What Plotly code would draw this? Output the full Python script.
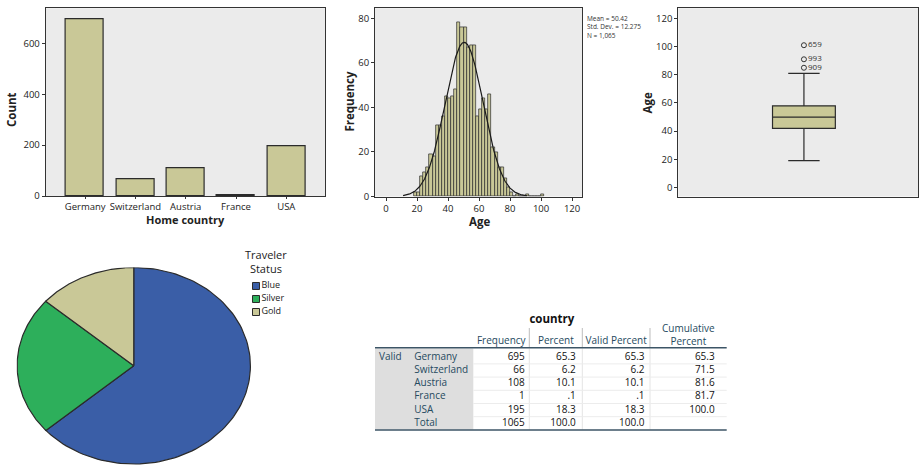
import numpy as np
import plotly.graph_objects as go

# ---------------- data ----------------
countries = ["Germany", "Switzerland", "Austria", "France", "USA"]
country_counts = [695, 66, 108, 1, 195]
country_percent = ["65.3", "6.2", "10.1", ".1", "18.3"]
country_valid_percent = ["65.3", "6.2", "10.1", ".1", "18.3"]
country_cum_percent = ["65.3", "71.5", "81.6", "81.7", "100.0"]
country_total = 1065

age_bin_start = [18, 20, 22, 24, 26, 28, 30, 32, 34, 36, 38, 40, 42, 44, 46, 48, 50,
                 52, 54, 56, 58, 60, 62, 64, 66, 68, 70, 72, 74, 76, 78, 80, 82, 84,
                 86, 88, 90, 92, 94, 96, 98, 100]
age_freq = [2, 2, 9, 11, 13, 19, 18, 32, 32, 36, 45, 44, 45, 48, 78, 76, 76,
            67, 68, 68, 36, 39, 44, 39, 46, 22, 20, 13, 13, 8, 4, 2, 0, 1,
            0, 0, 1, 0, 0, 0, 0, 1]
age_bin_width = 2
age_mean = 50.42
age_sd = 12.275
age_n = 1065

box_q1 = 42
box_median = 50
box_q3 = 58
box_low = 19
box_high = 81
outlier_ages = [101, 91, 85]
outlier_ids = ["659", "993", "909"]

status_labels = ["Blue", "Silver", "Gold"]
status_counts = [677, 243, 145]
status_colors = ["#3A5EA7", "#2DAF5B", "#C9C897"]

table_title = "country"
table_headers = ["Frequency", "Percent", "Valid Percent", "Cumulative<br>Percent"]

# ---------------- styles ----------------
FONT = "Open Sans"
BAR_FILL = "#C9C897"
EDGE = "#2b2b2b"
BG = "#EBEBEB"
W, H = 921, 465
TEAL = "#264A60"


def px_x(p):
    return p / W


def px_y(p):
    return 1 - p / H


fig = go.Figure()

# Bar chart: Home country
fig.add_trace(go.Bar(
    x=countries, y=country_counts, width=0.755,
    marker=dict(color=BAR_FILL, line=dict(color=EDGE, width=1.2)),
    xaxis="x", yaxis="y", showlegend=False))

# Histogram of age
fig.add_trace(go.Bar(
    x=[s + age_bin_width / 2 for s in age_bin_start], y=age_freq, width=age_bin_width,
    marker=dict(color=BAR_FILL, line=dict(color=EDGE, width=0.7)),
    xaxis="x2", yaxis="y2", showlegend=False))

cx = np.linspace(11, 91, 300)
cy = age_n * age_bin_width * np.exp(-0.5 * ((cx - age_mean) / age_sd) ** 2) / (age_sd * np.sqrt(2 * np.pi))
fig.add_trace(go.Scatter(x=cx, y=cy, mode="lines", line=dict(color="#1a1a1a", width=1.2),
                         xaxis="x2", yaxis="y2", showlegend=False, hoverinfo="skip"))

# Box plot
fig.add_trace(go.Box(
    x=[0], q1=[box_q1], median=[box_median], q3=[box_q3],
    lowerfence=[box_low], upperfence=[box_high],
    width=0.5, whiskerwidth=0.5, boxpoints=False,
    fillcolor=BAR_FILL, line=dict(color=EDGE, width=1.2),
    xaxis="x3", yaxis="y3", showlegend=False))
fig.add_trace(go.Scatter(
    x=[0] * len(outlier_ages), y=outlier_ages, mode="markers+text",
    text=outlier_ids, textposition="middle right",
    textfont=dict(family=FONT, size=8, color="#333"),
    marker=dict(symbol="circle-open", size=5, color="#333", line=dict(width=1)),
    xaxis="x3", yaxis="y3", showlegend=False))

# Elliptical pie built from slice polygons
total = sum(status_counts)
start = 90.0
for lab, cnt, col in zip(status_labels, status_counts, status_colors):
    sweep = 360.0 * cnt / total
    ang = np.radians(np.linspace(start, start - sweep, 120))
    xs = np.concatenate([[0], np.cos(ang), [0]])
    ys = np.concatenate([[0], np.sin(ang), [0]])
    fig.add_trace(go.Scatter(x=xs, y=ys, mode="lines", fill="toself", fillcolor=col,
                             line=dict(color=EDGE, width=1.2), xaxis="x4", yaxis="y4",
                             showlegend=False, hoverinfo="skip"))
    start -= sweep

# Legend for pie (drawn as markers on a hidden axis)
fig.add_trace(go.Scatter(
    x=[0] * len(status_labels), y=list(range(len(status_labels))), mode="markers+text",
    text=status_labels, textposition="middle right",
    textfont=dict(family=FONT, size=9, color="#222"),
    marker=dict(symbol="square", size=7, color=status_colors, line=dict(color=EDGE, width=1)),
    xaxis="x5", yaxis="y5", showlegend=False, hoverinfo="skip"))

# Frequency table, drawn as text on a hidden axis measured in pixels
col_edges = [375, 411.7, 473.3, 529.3, 582.3, 650, 726.7]
row_y = [357.3 + 13.2 * i for i in range(6)]
label_col = ["Valid", "", "", "", "", ""]
cat_col = countries + ["Total"]
freq_col = [str(v) for v in country_counts] + [str(country_total)]
pct_col = country_percent + ["100.0"]
vpct_col = country_valid_percent + ["100.0"]
cum_col = country_cum_percent + [""]


def table_text(xpos, values, pos, color):
    fig.add_trace(go.Scatter(
        x=[xpos] * len(values), y=row_y[:len(values)], mode="text", text=values,
        textposition=pos, textfont=dict(family=FONT, size=10, color=color),
        xaxis="x6", yaxis="y6", showlegend=False, hoverinfo="skip"))


table_text(col_edges[0] + 4, label_col, "middle right", TEAL)
table_text(col_edges[1] + 2.5, cat_col, "middle right", TEAL)
table_text(col_edges[3] - 4.5, freq_col, "middle left", "#111")
table_text(col_edges[4] - 6.5, pct_col, "middle left", "#111")
table_text(col_edges[5] - 5.5, vpct_col, "middle left", "#111")
table_text(col_edges[6] - 12, cum_col, "middle left", "#111")

head_x = [(col_edges[i] + col_edges[i + 1]) / 2 for i in range(2, 6)]
fig.add_trace(go.Scatter(
    x=head_x, y=[341.7, 341.7, 341.7, 335.8], mode="text", text=table_headers,
    textposition="middle center", textfont=dict(family=FONT, size=10, color=TEAL),
    xaxis="x6", yaxis="y6", showlegend=False, hoverinfo="skip"))
fig.add_trace(go.Scatter(
    x=[(col_edges[0] + col_edges[-1]) / 2 + 1], y=[320], mode="text", text=["<b>" + table_title + "</b>"],
    textposition="middle center", textfont=dict(family=FONT, size=11.5, color="#111"),
    xaxis="x6", yaxis="y6", showlegend=False, hoverinfo="skip"))

table_shapes = [
    dict(type="rect", xref="x6", yref="y6", x0=col_edges[0], x1=col_edges[2], y0=348.5, y1=429.5,
         fillcolor="#DEDEDE", line=dict(width=0), layer="below"),
]
for xe in col_edges[3:6]:
    table_shapes.append(dict(type="line", xref="x6", yref="y6", x0=xe, x1=xe, y0=328, y1=347,
                             line=dict(color="#BDBDBD", width=1)))
    table_shapes.append(dict(type="line", xref="x6", yref="y6", x0=xe, x1=xe, y0=348.5, y1=429.5,
                             line=dict(color="#E4E4E4", width=1)))
for yb in row_y[:-1]:
    table_shapes.append(dict(type="line", xref="x6", yref="y6", x0=col_edges[2], x1=col_edges[-1],
                             y0=yb + 6.6, y1=yb + 6.6, line=dict(color="#ECECEC", width=1)))
for yl in [347.7, 430]:
    table_shapes.append(dict(type="line", xref="x6", yref="y6", x0=col_edges[0], x1=col_edges[-1],
                             y0=yl, y1=yl, line=dict(color="#3c5566", width=1.5)))

axis_common = dict(showgrid=False, zeroline=False, showline=True, linecolor="#333", linewidth=1,
                   mirror=True, ticks="outside", ticklen=3, tickcolor="#333", automargin=False,
                   tickfont=dict(family=FONT, size=9.5, color="#222"))
hidden = dict(visible=False, automargin=False, showgrid=False, zeroline=False)


def axis_title(text, x, y, angle=0, size=11.5):
    return dict(text="<b>" + text + "</b>", xref="paper", yref="paper", x=px_x(x), y=px_y(y),
                xanchor="center", yanchor="middle", textangle=angle, showarrow=False,
                font=dict(family=FONT, size=size, color="#222"))


fig.update_layout(
    width=W, height=H, autosize=False,
    margin=dict(l=0, r=0, t=0, b=0),
    paper_bgcolor="white", plot_bgcolor="white",
    font=dict(family=FONT, color="#222"),
    bargap=0,
    xaxis=dict(domain=[px_x(45.7), px_x(325)], range=[-0.785, 4.77], type="category",
               anchor="y", **{**axis_common, "ticklen": 2}),
    yaxis=dict(domain=[px_y(196), px_y(8.3)], range=[0, 737.5], tickvals=[0, 200, 400, 600],
               anchor="x", **axis_common),
    xaxis2=dict(domain=[px_x(375), px_x(582.3)], range=[-7.1, 126.6], tickvals=[0, 20, 40, 60, 80, 100, 120],
                anchor="y2", **axis_common),
    yaxis2=dict(domain=[px_y(196.5), px_y(8.3)], range=[0, 84.5], tickvals=[0, 20, 40, 60, 80],
                anchor="x2", **axis_common),
    xaxis3=dict(domain=[px_x(678.3), px_x(918)], range=[-1, 0.908], showticklabels=False,
                showgrid=False, zeroline=False, showline=True, linecolor="#333", mirror=True,
                ticks="", anchor="y3", automargin=False),
    yaxis3=dict(domain=[px_y(196.5), px_y(8.3)], range=[-6.4, 127.2], tickvals=[0, 20, 40, 60, 80, 100, 120],
                anchor="x3", **axis_common),
    xaxis4=dict(domain=[px_x(16.5), px_x(251)], range=[-1.005, 1.005], anchor="y4", **hidden),
    yaxis4=dict(domain=[0, px_y(267.5)], range=[-1.01, 1.0], anchor="x4", **hidden),
    xaxis5=dict(domain=[px_x(250), px_x(300)], range=[-0.6, 4.4], anchor="y5", **hidden),
    yaxis5=dict(domain=[px_y(318), px_y(280)], range=[2.46, -0.46], anchor="x5", **hidden),
    xaxis6=dict(domain=[px_x(370), px_x(730)], range=[370, 730], anchor="y6", **hidden),
    yaxis6=dict(domain=[px_y(440), px_y(310)], range=[440, 310], anchor="x6", **hidden),
    shapes=[
        dict(type="rect", xref="x domain", yref="y domain", x0=0, x1=1, y0=0, y1=1,
             fillcolor=BG, line=dict(width=0), layer="below"),
        dict(type="rect", xref="x2 domain", yref="y2 domain", x0=0, x1=1, y0=0, y1=1,
             fillcolor=BG, line=dict(width=0), layer="below"),
        dict(type="rect", xref="x3 domain", yref="y3 domain", x0=0, x1=1, y0=0, y1=1,
             fillcolor=BG, line=dict(width=0), layer="below"),
    ] + table_shapes,
    annotations=[
        axis_title("Count", 11, 110, -90),
        axis_title("Home country", 185, 219.5, 0, 11),
        axis_title("Frequency", 348.5, 102, -90),
        axis_title("Age", 479.5, 221),
        axis_title("Age", 647, 103.5, -90),
        dict(text="Mean = 50.42<br>Std. Dev. = 12.275<br>N = 1,065", xref="paper", yref="paper",
             x=px_x(585), y=px_y(12), xanchor="left", yanchor="top", align="left", showarrow=False,
             font=dict(family=FONT, size=6.5, color="#333")),
        dict(text="Traveler<br>Status", xref="paper", yref="paper",
             x=px_x(266), y=px_y(261), xanchor="center", yanchor="middle", align="center",
             showarrow=False, font=dict(family=FONT, size=11, color="#222")),
    ],
)

fig.write_html("out.html", config={"displayModeBar": False},
               post_script="document.body.style.margin='0';document.body.style.overflow='hidden';")
